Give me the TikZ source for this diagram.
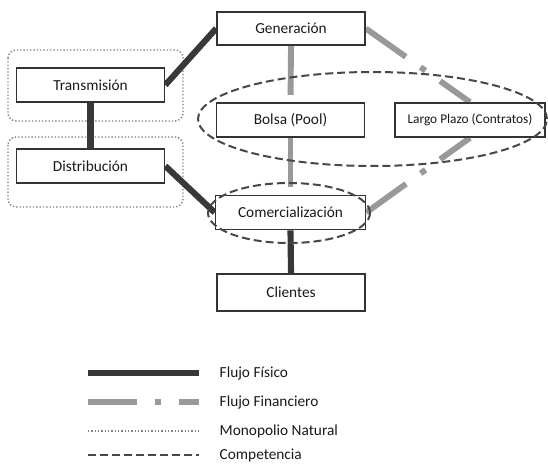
\documentclass[tikz,border=0pt]{standalone}
\usepackage{fontspec}
\setmainfont{Carlito}
\usetikzlibrary{positioning,shapes.geometric,backgrounds}

\begin{document}
\begin{tikzpicture}[
  x=0.75pt, y=-0.75pt,
  font=\fontsize{11.5}{13}\selectfont,
  box/.style   ={draw=black!80,line width=1.2pt,fill=white,rectangle,
                 minimum width=111pt,minimum height=25.5pt,inner sep=2pt,
                 text=black!90},
  fisico/.style={line width=4.6pt,draw=black!78},
  financ/.style={line width=4.4pt,draw=black!40,
                 dash pattern=on 36.75pt off 13.5pt on 4.5pt off 13.5pt},
  monop/.style ={draw=black!50,line width=1.1pt,dash pattern=on 1pt off 1.5pt},
  compet/.style={draw=black!72,line width=1.5pt,dash pattern=on 6pt off 3pt},
  legtext/.style={anchor=west,text=black!90},
]
\useasboundingbox (0,0) rectangle (548,463);

%% ===== Boxes =================================================================
\node[box,minimum height=24.75pt] (gen)   at (291,28.5)  {Generación};
\node[box]                        (trans) at (90.5,85)   {Transmisión};
\node[box]                        (dist)  at (90.5,166)  {Distribución};
\node[box]                        (bolsa) at (290.5,120) {Bolsa (Pool)};
\node[box,minimum width=112.5pt,font=\fontsize{10}{12}\selectfont]
                                  (largo) at (470,120)   {Largo Plazo (Contratos)};
\node[box,minimum width=112.5pt]  (comer) at (290.5,212.5) {Comercialización};
\node[box,minimum height=27.75pt] (clien) at (291,292.5) {Clientes};

%% ===== Competition ellipses ==================================================
\node[compet,ellipse,minimum width=261.75pt,minimum height=70.5pt]
      (mercado) at (372.5,119) {};
\node[compet,ellipse,minimum width=121.5pt,minimum height=45pt]
      (minor) at (289,213) {};

%% ===== Flows and natural monopolies ==========================================
\begin{scope}[on background layer]
  \draw[monop,rounded corners=6pt] (8,50)  rectangle (183,121);
  \draw[monop,rounded corners=6pt] (8,137) rectangle (183,207);

  \draw[fisico] (trans.east)  -- (gen.west);
  \draw[fisico] (trans.south) -- (dist.north);
  \draw[fisico] (dist.east)   -- (comer.west);
  \draw[fisico] (comer.south) -- (clien.north);

  \foreach \a/\b in {gen.south/bolsa.north, bolsa.south/comer.north,
                     gen.east/largo.north, comer.east/largo.south} {
    \draw[financ] (\a) -- (\b);
  }
\end{scope}

%% ===== Legend ================================================================
\foreach \y/\s/\t/\n in {373/fisico/Flujo Físico/lfis,
                         402/financ/Flujo Financiero/lfin,
                         431/monop/Monopolio Natural/lmon,
                         455/compet/Competencia/lcom} {
  \coordinate (\n a) at (88,\y);
  \coordinate (\n b) at (199,\y);
  \draw[\s] (\n a) -- (\n b);
  \node[legtext] (\n) at (215,\y) {\t};
}

\end{tikzpicture}
\end{document}
